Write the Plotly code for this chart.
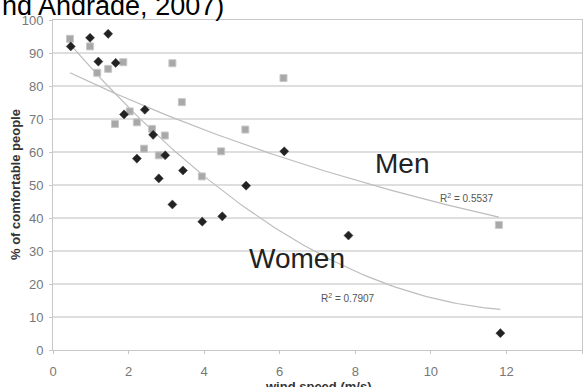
import numpy as np
import plotly.graph_objects as go

# Women (black diamonds)
women_x = [0.47, 0.98, 1.46, 1.20, 1.66, 1.88, 2.43, 2.65, 2.22, 2.97, 3.44, 2.80, 5.11, 6.12, 3.16, 3.95, 4.48, 7.82, 11.84]
women_y = [92.0, 94.6, 95.8, 87.4, 87.0, 71.4, 72.8, 65.2, 58.0, 59.0, 54.4, 52.0, 49.8, 60.2, 44.1, 38.9, 40.5, 34.7, 5.1]

# Men (gray squares)
men_x = [0.45, 0.98, 1.17, 1.46, 1.86, 3.16, 3.41, 2.03, 1.64, 2.22, 2.62, 2.96, 5.09, 2.41, 2.80, 4.45, 3.94, 6.10, 11.80]
men_y = [94.3, 92.0, 84.0, 85.2, 87.2, 86.9, 75.1, 72.3, 68.5, 69.0, 67.0, 65.0, 66.8, 61.0, 59.0, 60.2, 52.6, 82.4, 37.9]

x_ticks = [0, 2, 4, 6, 8, 10, 12, 14]
y_ticks = [0, 10, 20, 30, 40, 50, 60, 70, 80, 90, 100]

r2_men = "0.5537"
r2_women = "0.7907"


def exp_trend(xs, ys):
    xs = np.asarray(xs, float)
    ys = np.asarray(ys, float)
    b, lna = np.polyfit(xs, np.log(ys), 1)
    xx = np.linspace(xs.min(), xs.max(), 100)
    return xx, np.exp(lna + b * xx)


def poly2_trend(xs, ys):
    xs = np.asarray(xs, float)
    ys = np.asarray(ys, float)
    coef = np.polyfit(xs, ys, 2)
    xx = np.linspace(xs.min(), xs.max(), 100)
    return xx, np.polyval(coef, xx)


FONT = "Liberation Sans, Arial, sans-serif"

fig = go.Figure()

mx, my = exp_trend(men_x, men_y)
wx, wy = poly2_trend(women_x, women_y)
fig.add_trace(go.Scatter(x=mx, y=my, mode="lines", line=dict(color="#bdbdbd", width=1.2),
                         hoverinfo="skip", showlegend=False))
fig.add_trace(go.Scatter(x=wx, y=wy, mode="lines", line=dict(color="#bdbdbd", width=1.2),
                         hoverinfo="skip", showlegend=False))

fig.add_trace(go.Scatter(x=men_x, y=men_y, mode="markers", name="Men",
                         marker=dict(symbol="square", size=7, color="#a8a8a8",
                                     line=dict(color="#c8c8c8", width=1)),
                         showlegend=False))
fig.add_trace(go.Scatter(x=women_x, y=women_y, mode="markers", name="Women",
                         marker=dict(symbol="diamond", size=7, color="#222222",
                                     line=dict(color="#444444", width=0.5)),
                         showlegend=False))

axis_common = dict(showline=True, linecolor="#c8c8c8", linewidth=1, mirror=True,
                   gridcolor="#dedede", gridwidth=1.5, zeroline=False,
                   ticks="outside", ticklen=3, tickcolor="#c8c8c8",
                   tickfont=dict(family=FONT, size=13, color="#777777"))

fig.update_xaxes(range=[0, 14], tickvals=x_ticks, showgrid=False, ticklabelstandoff=6,
                 **axis_common)
fig.update_yaxes(range=[0, 100], tickvals=y_ticks, showgrid=True, ticklabelstandoff=3,
                 **axis_common)

TITLE_FONT = dict(family=FONT, size=13, color="#333333", weight="bold")

annotations = [
    dict(x=0.5, y=-0.1106, xref="paper", yref="paper", xanchor="center", yanchor="middle",
         text="wind speed (m/s)", showarrow=False, font=TITLE_FONT),
    dict(x=-0.0718, y=0.5, xref="paper", yref="paper", xanchor="center", yanchor="middle",
         text="% of comfortable people", textangle=-90, showarrow=False, font=TITLE_FONT),
    dict(x=9.23, y=56.5, text="Men", showarrow=False, font=dict(family=FONT, size=28, color="#222222")),
    dict(x=6.45, y=27.7, text="Women", showarrow=False, font=dict(family=FONT, size=28, color="#222222")),
    dict(x=10.95, y=46.2, text="R<sup>2</sup> = " + r2_men, showarrow=False,
         font=dict(family=FONT, size=10, color="#555555")),
    dict(x=7.8, y=15.9, text="R<sup>2</sup> = " + r2_women, showarrow=False,
         font=dict(family=FONT, size=10, color="#555555")),
    dict(x=-0.1002, y=1.041, xref="paper", yref="paper", xanchor="left", yanchor="middle",
         text="nd Andrade, 2007)", showarrow=False, font=dict(family=FONT, size=27, color="#000000")),
]

fig.update_layout(
    width=583, height=387,
    margin=dict(l=53, r=1, t=20, b=37, autoexpand=False),
    paper_bgcolor="white", plot_bgcolor="white",
    annotations=annotations,
    font=dict(family=FONT),
)

fig.write_html("out.html", config={"displayModeBar": False},
               post_script="document.body.style.margin='0';document.body.style.padding='0';")
